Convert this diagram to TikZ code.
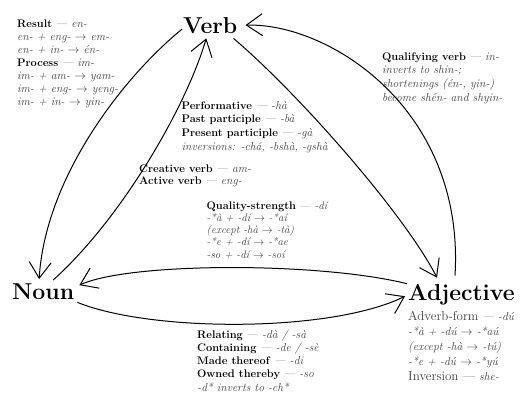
\documentclass[tikz,border=0pt]{standalone}
\usetikzlibrary{arrows.meta,calc}
\definecolor{gr}{HTML}{404040}
\newcommand{\txtblock}[1]{\begin{tabular}[t]{@{}l@{}}#1\end{tabular}}
\newcommand{\gi}[1]{{\fontsize{11.6}{13}\selectfont\color{gr}\itshape #1}}
\newcommand{\gis}[1]{{\fontsize{11}{12}\selectfont\color{gr}\itshape #1}}
\newcommand{\gr}[1]{{\fontsize{13}{13}\selectfont\color{gr}#1}}
\newcommand{\rarr}{$\rightarrow$}
\begin{document}
\begin{tikzpicture}[x=1pt,y=-1pt,
  big/.style={font=\fontsize{23}{28}\selectfont\bfseries, anchor=base west, inner sep=0pt},
  txt/.style={font=\fontsize{11}{13.7}\selectfont, anchor=base west, inner sep=0pt},
  con/.style={line width=1pt, -{Straight Barb[length=16pt,width=22pt]}}]
\useasboundingbox (0,0) rectangle (522,397);

\node[big] (verb) at (183,33) {Verb};
\node[big] (noun) at (12,299) {Noun};
\node[big] (adj) at (408,300) {Adjective};

\node[txt, font=\fontsize{11}{13}\selectfont] (result) at (17,27) {\txtblock{%
\textbf{Result} \gi{--- en-}\\
\gi{en- + eng- \rarr{} em-}\\
\gi{en- + in- \rarr{} \'en-}\\
\textbf{Process} \gi{--- im-}\\
\gi{im- + am- \rarr{} yam-}\\
\gi{im- + eng- \rarr{} yeng-}\\
\gi{im- + in- \rarr{} yin-}}};

\node[txt] (qual) at (382,60) {\txtblock{%
\textbf{Qualifying verb} \gi{--- in-}\\
\gi{inverts to shin-;}\\
\gi{shortenings (\'en-, yin-)}\\
\gi{become sh\'en- and shyin-}}};

\node[txt] (perf) at (181.5,109) {\txtblock{%
\textbf{Performative} \gi{--- -h\`a}\\
\textbf{Past participle} \gi{--- -b\`a}\\
\textbf{Present participle} \gi{--- -g\`a}\\
\gi{inversions: -ch\'a, -bsh\`a, -gsh\`a}}};

\node[txt, font=\fontsize{11}{12.5}\selectfont] (creat) at (139,172) {\txtblock{%
\textbf{Creative verb} \gi{--- am-}\\
\textbf{Active verb} \gi{--- eng-}}};

\node[txt, font=\fontsize{11}{12.3}\selectfont] (qs) at (206.5,209) {\txtblock{%
\textbf{Quality-strength} \gis{--- -d\'{\i}}\\
\gis{-*\`a + -d\'{\i} \rarr{} -*a\'{\i}}\\
\gis{(except -h\`a \rarr{} -t\`a)}\\
\gis{-*e + -d\'{\i} \rarr{} -*ae}\\
\gis{-so + -d\'{\i} \rarr{} -so\'{\i}}}};

\node[txt, font=\fontsize{11}{13.3}\selectfont] (rel) at (197,338) {\txtblock{%
\textbf{Relating} \gi{--- -d\`a / -s\`a}\\
\textbf{Containing} \gi{--- -de / -s\`e}\\
\textbf{Made thereof} \gi{--- -di}\\
\textbf{Owned thereby} \gi{--- -so}\\
\gi{-d* inverts to -ch*}}};

\node[txt, font=\fontsize{11.5}{15}\selectfont] (advb) at (408,320) {\txtblock{%
\gr{Adverb-form} \gi{--- -d\'u}\\
\gi{-*\`a + -d\'u \rarr{} -*a\'u}\\
\gi{(except -h\`a \rarr{} -t\'u)}\\
\gi{-*e + -d\'u \rarr{} -*y\'u}\\
\gr{Inversion ---} \gi{she-}}};

\draw[con] ($(verb.west)+(-1,4)$) .. controls (120,80) and (45,180) .. ($(noun.north)+(-4,-4)$);
\draw[con] ($(noun.north)+(10,-3)$) .. controls (120,220) and (185,110) .. ($(verb.south)+(-4,5)$);
\draw[con] ($(verb.south east)+(-4,5)$) .. controls (300,95) and (405,215) .. ($(adj.north west)+(29,-6)$);
\draw[con] ($(adj.north west)+(47,-8)$) .. controls (465,110) and (330,23) .. ($(verb.east)+(8,0)$);
\draw[con] ($(adj.north west)+(-1,0)$) .. controls (320,262) and (130,262) .. ($(noun.east)+(5,-6)$);
\draw[con] ($(noun.south east)+(3,3)$) .. controls (150,332) and (330,333) .. ($(adj.west)+(-3,2)$);
\end{tikzpicture}
\end{document}
